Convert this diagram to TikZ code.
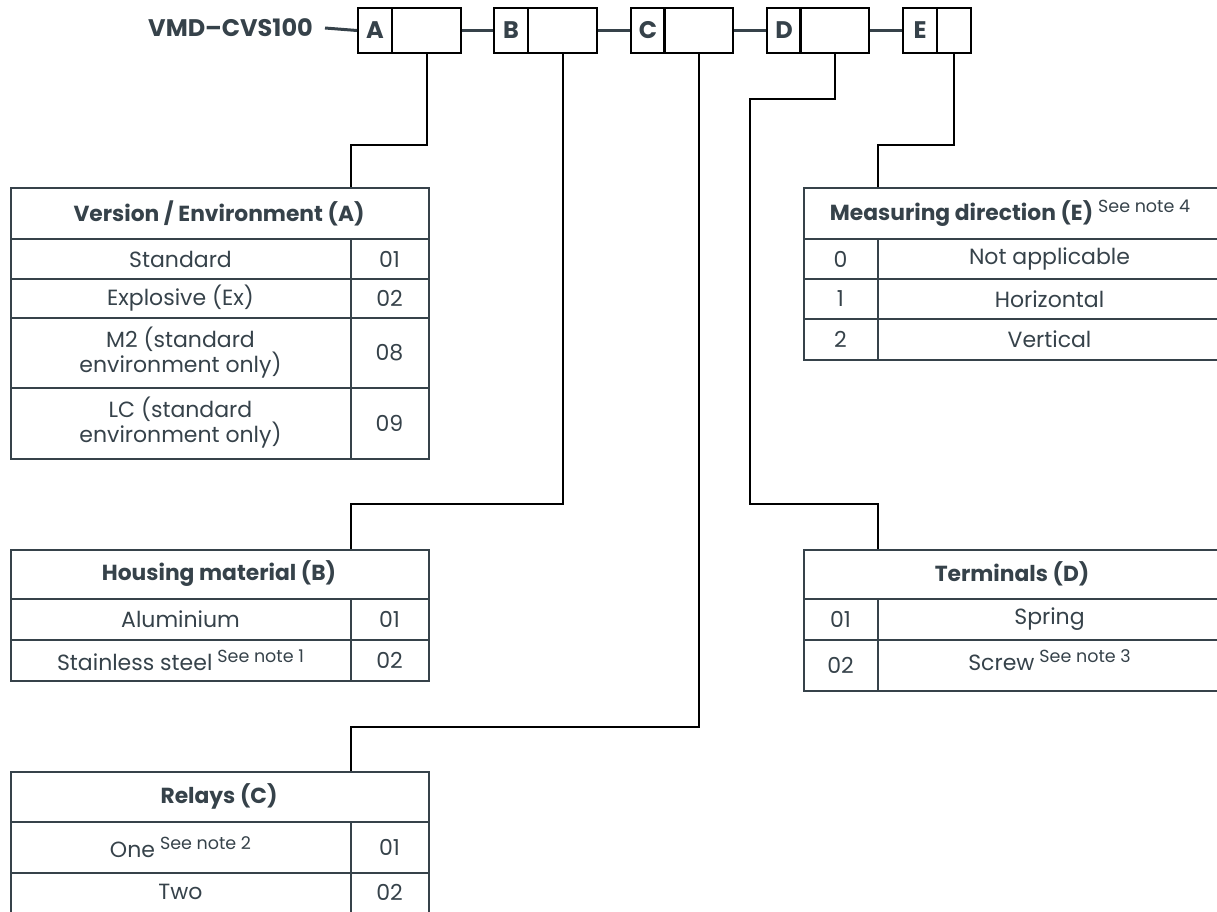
\documentclass[tikz,border=0pt]{standalone}
\usepackage{fontspec}
\setmainfont{Poppins}
\definecolor{slate}{HTML}{36424A}
\newcommand\fsz[2]{\fontsize{#1pt}{#2pt}\selectfont}
\newcommand\snote[1]{\hspace{5pt}{\fsz{17.5}{18}\mdseries\raisebox{8pt}{#1}}}
\begin{document}
\begin{tikzpicture}[x=1pt,y=-1pt,
  every node/.style={text=slate, font=\fsz{22}{25}},
  tab/.style={draw=slate, line width=2pt},
  tabframe/.style={draw=slate, line width=2pt, inner sep=0pt, anchor=north west},
  keycell/.style={draw=black, line width=2pt, inner sep=0pt, anchor=north west, minimum height=45pt},
  keylabel/.style={keycell, minimum width=34pt, font=\bfseries\fsz{24}{27}},
  keyvalue/.style={keycell, minimum width=69pt},
  link/.style={draw=slate, line width=3pt},
  conn/.style={draw=black, line width=2pt},
  hdr/.style={font=\bfseries\fsz{21.8}{25}},
  cell/.style={align=center, inner sep=0pt},
]
\useasboundingbox (0,0) rectangle (1217,911);
\clip (0,0) rectangle (1217,911);

% ---- code line ----
\node[anchor=east, inner sep=0pt, font=\bfseries\fsz{24}{27}] (code) at (313,28) {VMD–CVS100};
\node[keylabel] (Alab) at (357,7) {A};
\node[keyvalue] (Aval) at (391,7) {};
\node[keylabel] (Blab) at (493,7) {B};
\node[keyvalue] (Bval) at (527,7) {};
\node[keylabel] (Clab) at (630,7) {C};
\node[keyvalue] (Cval) at (663,7) {};
\node[keylabel] (Dlab) at (766,7) {D};
\node[keyvalue] (Dval) at (799,7) {};
\node[keylabel] (Elab) at (902,7) {E};
\node[keycell, minimum width=34pt] (Eval) at (936,7) {};

\draw[link] ([xshift=12pt]code.east) -- (Alab.west);
\draw[link] (Aval.east) -- (Blab.west);
\draw[link] (Bval.east) -- (Clab.west);
\draw[link] (Cval.east) -- (Dlab.west);
\draw[link] (Dval.east) -- (Elab.west);

% ---- table A ----
\node[tabframe, minimum width=418pt, minimum height=271pt] (tabA) at (10,187) {};
\draw[tab] (10,239) -- (428,239);
\draw[tab] (10,279) -- (428,279);
\draw[tab] (10,318) -- (428,318);
\draw[tab] (10,388) -- (428,388);
\draw[tab] (351,239) -- (351,458);
\node[hdr] (hA) at (219,213) {Version / Environment (A)};
\node[cell] (a1) at (180.5,259) {Standard};
\node[cell] (a1c) at (389.5,259) {01};
\node[cell] (a2) at (180.5,298.5) {Explosive (Ex)};
\node[cell] (a2c) at (389.5,298.5) {02};
\node[cell] (a3) at (180.5,353) {M2 (standard\\environment only)};
\node[cell] (a3c) at (389.5,353) {08};
\node[cell] (a4) at (180.5,423) {LC (standard\\environment only)};
\node[cell] (a4c) at (389.5,423) {09};

% ---- table B ----
\node[tabframe, minimum width=418pt, minimum height=131pt] (tabB) at (10,549) {};
\draw[tab] (10,599) -- (428,599);
\draw[tab] (10,640) -- (428,640);
\draw[tab] (351,599) -- (351,680);
\node[hdr] (hB) at (219,574) {Housing material (B)};
\node[cell] (b1) at (180.5,619.5) {Aluminium};
\node[cell] (b1c) at (389.5,619.5) {01};
\node[cell] (b2) at (180.5,660) {Stainless steel\snote{See note 1}};
\node[cell] (b2c) at (389.5,660) {02};

% ---- table C ----
\node[tabframe, minimum width=418pt, minimum height=145pt] (tabC) at (10,771) {};
\draw[tab] (10,822) -- (428,822);
\draw[tab] (10,873) -- (428,873);
\draw[tab] (351,822) -- (351,916);
\node[hdr] (hC) at (219,796.5) {Relays (C)};
\node[cell] (c1) at (180.5,847.5) {One\snote{See note 2}};
\node[cell] (c1c) at (389.5,847.5) {01};
\node[cell] (c2) at (180.5,892) {Two};
\node[cell] (c2c) at (389.5,892) {02};

% ---- table D ----
\node[tabframe, minimum width=418pt, minimum height=141pt] (tabD) at (803,549) {};
\draw[tab] (803,599) -- (1221,599);
\draw[tab] (803,640) -- (1221,640);
\draw[tab] (878,599) -- (878,690);
\node[hdr] (hD) at (1012,574) {Terminals (D)};
\node[cell] (d1c) at (840.5,619.5) {01};
\node[cell] (d1) at (1049.5,619.5) {Spring};
\node[cell] (d2c) at (840.5,665) {02};
\node[cell] (d2) at (1049.5,660) {Screw\snote{See note 3}};

% ---- table E ----
\node[tabframe, minimum width=418pt, minimum height=172pt] (tabE) at (803,187) {};
\draw[tab] (803,239) -- (1221,239);
\draw[tab] (803,279) -- (1221,279);
\draw[tab] (803,319) -- (1221,319);
\draw[tab] (878,239) -- (878,359);
\node[hdr] (hE) at (1010,213) {Measuring direction (E)\snote{See note 4}};
\node[cell] (e1c) at (840.5,259) {0};
\node[cell] (e1) at (1049.5,259) {Not applicable};
\node[cell] (e2c) at (840.5,299) {1};
\node[cell] (e2) at (1049.5,299) {Horizontal};
\node[cell] (e3c) at (840.5,339) {2};
\node[cell] (e3) at (1049.5,339) {Vertical};

% ---- connectors ----
\coordinate (Ain) at (351,187);
\coordinate (Bin) at (351,549);
\coordinate (Cin) at (351,771);
\coordinate (Din) at (878,549);
\coordinate (Ein) at (878,187);
\draw[conn] (Aval.south) -- ++(0,91) -| (Ain);
\draw[conn] (Bval.south) -- ++(0,450) -| (Bin);
\draw[conn] (Cval.south) -- ++(0,673) -| (Cin);
\draw[conn] (Dval.south) -- ++(0,45) -| ++(-85,405) -| (Din);
\draw[conn] (Eval.south) -- ++(0,91) -| (Ein);
\end{tikzpicture}
\end{document}
